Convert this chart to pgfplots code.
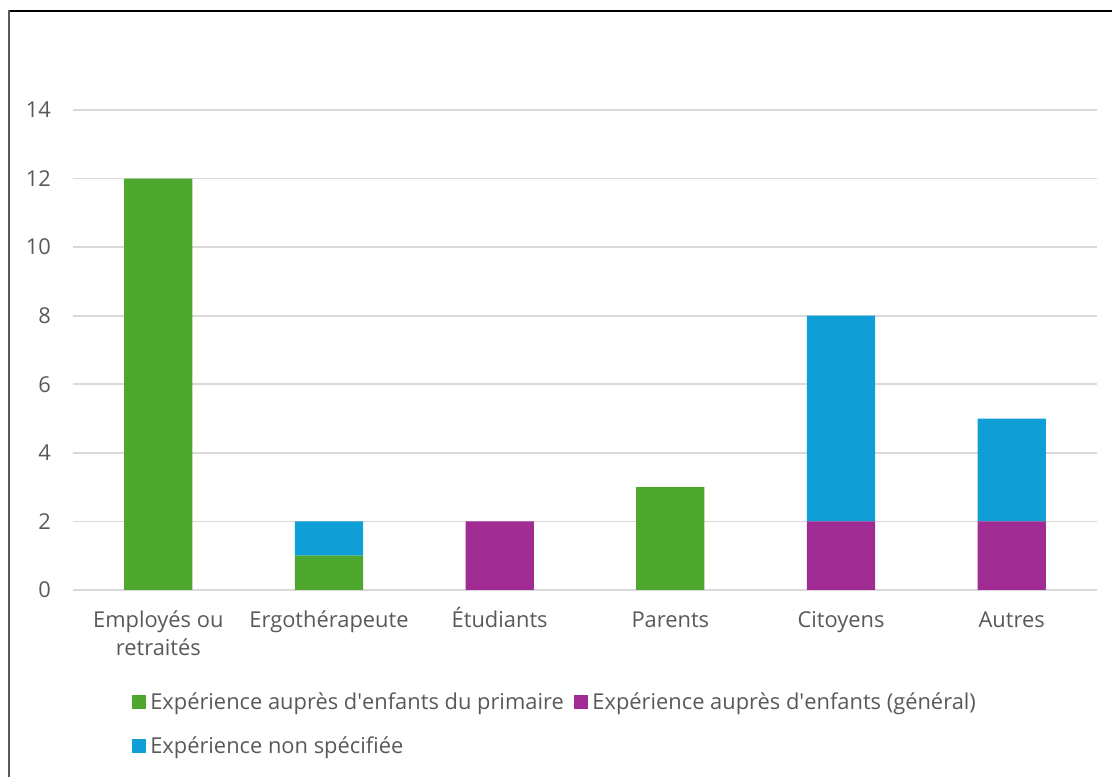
\documentclass[border=0pt]{standalone}
\usepackage{pgfplots}
\pgfplotsset{compat=1.18}
\usepackage{fontspec}
\setmainfont{Open Sans}

\definecolor{cgreen}{HTML}{4EA72E}
\definecolor{cpurple}{HTML}{A02B93}
\definecolor{cblue}{HTML}{0F9ED5}
\definecolor{txt}{HTML}{595959}
\definecolor{gridc}{HTML}{D9D9D9}

\newcommand{\lbl}{\fontsize{16.4}{21.5}\selectfont\color{txt}}
\newcommand{\st}{\vphantom{Ég}}

\begin{document}
\begin{tikzpicture}
% outer frame of the chart area (1 px = 0.75 pt)
\useasboundingbox (0,0) rectangle (834pt,582.75pt);
\draw[black, line width=1pt] (6.75pt,574.5pt) -- (834pt,574.5pt);
\draw[txt, line width=1.5pt] (6.75pt,575pt) -- (6.75pt,0pt);

\begin{axis}[
  at={(54.75pt,140.25pt)}, anchor=south west,
  scale only axis,
  width=768pt, height=360pt,
  ybar stacked, bar width=0.4,
  xmin=-0.5, xmax=5.5,
  ymin=0, ymax=14,
  ytick={0,2,...,14},
  xtick={0,1,2,3,4,5},
  xticklabels={{\st Employés ou\\retraités},\st Ergothérapeute,\st Étudiants,\st Parents,\st Citoyens,\st Autres},
  xticklabel style={align=center, font=\lbl, yshift=-9pt},
  yticklabel style={font=\lbl, xshift=-13pt},
  /pgf/number format/assume math mode=true,
  major tick length=0pt,
  axis line style={draw=none},
  ymajorgrids,
  grid style={gridc, line width=1.3pt},
  legend columns=2,
  legend cell align=left,
  legend style={
    at={(0.0576,-0.205)}, anchor=north west,
    draw=none, fill=none, font=\lbl, inner sep=0pt,
    row sep=13pt,
    /tikz/every even column/.append style={column sep=5pt},
    nodes={inner sep=3pt},
  },
]
\addplot[fill=cgreen, draw=none,
  legend image code/.code={\fill[cgreen] (0pt,-5.25pt) rectangle (10.5pt,5.25pt);}]
  coordinates {(0,12) (1,1) (2,0) (3,3) (4,0) (5,0)};
\addlegendentry{Expérience auprès d\textquotesingle enfants du primaire}
\addplot[fill=cpurple, draw=none,
  legend image code/.code={\fill[cpurple] (0pt,-5.25pt) rectangle (10.5pt,5.25pt);}]
  coordinates {(0,0) (1,0) (2,2) (3,0) (4,2) (5,2)};
\addlegendentry{Expérience auprès d\textquotesingle enfants (général)}
\addplot[fill=cblue, draw=none,
  legend image code/.code={\fill[cblue] (0pt,-5.25pt) rectangle (10.5pt,5.25pt);}]
  coordinates {(0,0) (1,1) (2,0) (3,0) (4,6) (5,3)};
\addlegendentry{Expérience non spécifiée}
\end{axis}
\end{tikzpicture}
\end{document}
